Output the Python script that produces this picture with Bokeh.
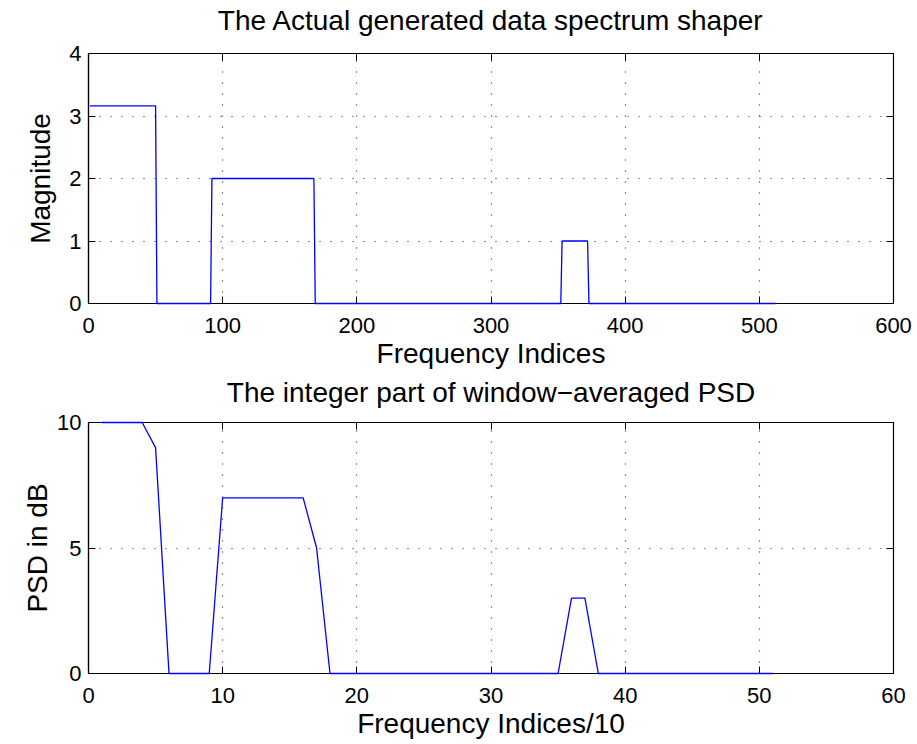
from bokeh.plotting import figure
from bokeh.layouts import column
from bokeh.models import LinearAxis, FixedTicker, Range1d
from bokeh.embed import file_html
from bokeh.resources import INLINE

# ---- data ----
# top panel: generated spectrum shaper (piecewise constant magnitudes)
shaper_idx = [1, 50, 51, 91, 92, 168, 169, 352, 353, 372, 373, 512]
shaper_mag = [3.1623, 3.1623, 0, 0, 2, 2, 0, 0, 1, 1, 0, 0]

# bottom panel: integer part of window-averaged PSD (dB), indices/10 = 1..51
psd_idx = [1, 2, 3, 4, 5, 6, 7, 8, 9, 10, 11, 12, 13, 14, 15, 16, 17, 18, 19, 20,
           21, 22, 23, 24, 25, 26, 27, 28, 29, 30, 31, 32, 33, 34, 35, 36, 37, 38,
           39, 40, 41, 42, 43, 44, 45, 46, 47, 48, 49, 50, 51]
psd_db = [10, 10, 10, 10, 9, 0, 0, 0, 0, 7, 7, 7, 7, 7, 7, 7, 5, 0, 0, 0,
          0, 0, 0, 0, 0, 0, 0, 0, 0, 0, 0, 0, 0, 0, 0, 3, 3, 0,
          0, 0, 0, 0, 0, 0, 0, 0, 0, 0, 0, 0, 0]

top_xticks = [0, 100, 200, 300, 400, 500, 600]
top_yticks = [0, 1, 2, 3, 4]
bot_xticks = [0, 10, 20, 30, 40, 50, 60]
bot_yticks = [0, 5, 10]

top_title = "The Actual generated data spectrum shaper"
bot_title = "The integer part of window\u2212averaged PSD"

FONT = "Liberation Sans"


def make_fig(title, xlabel, ylabel, xs, ys, xr, yr, xticks, yticks,
             height, btop, bbottom, title_standoff, ylab_standoff,
             xtick_standoff, xlab_standoff):
    p = figure(width=917, height=height,
               x_range=Range1d(*xr), y_range=Range1d(*yr),
               output_backend="svg", toolbar_location=None,
               min_border_left=88, min_border_right=24,
               min_border_top=btop, min_border_bottom=bbottom)

    p.outline_line_color = "black"
    p.outline_line_width = 1.2
    p.outline_line_alpha = 1

    p.line(xs, ys, line_color="#0000ff", line_width=1.3, level="overlay")

    for ax, ticks in ((p.xaxis[0], xticks), (p.yaxis[0], yticks)):
        ax.ticker = FixedTicker(ticks=ticks)
        ax.major_tick_in = 7
        ax.major_tick_out = 0
        ax.minor_tick_line_color = None
        ax.axis_line_color = "black"
        ax.axis_line_width = 1.2
        ax.major_tick_line_color = "black"
        ax.major_label_text_font = FONT
        ax.major_label_text_font_size = "22px"
        ax.major_label_text_color = "black"
        ax.axis_label_text_font = FONT
        ax.axis_label_text_font_size = "28px"
        ax.axis_label_text_font_style = "normal"
        ax.axis_label_text_color = "black"

    p.xaxis[0].axis_label = xlabel
    p.xaxis[0].major_label_standoff = xtick_standoff
    p.xaxis[0].axis_label_standoff = xlab_standoff
    p.yaxis[0].axis_label = ylabel
    p.yaxis[0].major_label_standoff = 7
    p.yaxis[0].axis_label_standoff = ylab_standoff

    # box ticks on top and right (MATLAB "box on"); the top one carries the title
    for loc, ticks in (("above", xticks), ("right", yticks)):
        ax = LinearAxis(ticker=FixedTicker(ticks=ticks),
                        major_label_text_font_size="1px",
                        major_label_text_color=None,
                        major_label_standoff=0,
                        major_tick_in=7, major_tick_out=0,
                        minor_tick_line_color=None,
                        axis_line_color=None,
                        major_tick_line_color="black")
        if loc == "above":
            ax.axis_label = title
            ax.axis_label_text_font = FONT
            ax.axis_label_text_font_size = "28px"
            ax.axis_label_text_font_style = "normal"
            ax.axis_label_text_color = "black"
            ax.axis_label_standoff = title_standoff
        p.add_layout(ax, loc)

    for g, ticks in ((p.xgrid[0], xticks), (p.ygrid[0], yticks)):
        g.ticker = FixedTicker(ticks=ticks)
        g.grid_line_color = "black"
        g.grid_line_alpha = 0.85
        g.grid_line_dash = "1 10"
        g.grid_line_width = 1.2
    return p


p1 = make_fig(top_title, "Frequency Indices",
              "Magnitude", shaper_idx, shaper_mag, (0, 600), (0, 4),
              top_xticks, top_yticks, 373, 53, 70, 18, 10, 14, 2)
p2 = make_fig(bot_title, "Frequency Indices/10",
              "PSD in dB", psd_idx, psd_db, (0, 60), (0, 10),
              bot_xticks, bot_yticks, 371, 49, 71, 15, 1, 14, 2)

layout = column(p1, p2, spacing=0)
open("out.html", "w").write(file_html(layout, INLINE))
